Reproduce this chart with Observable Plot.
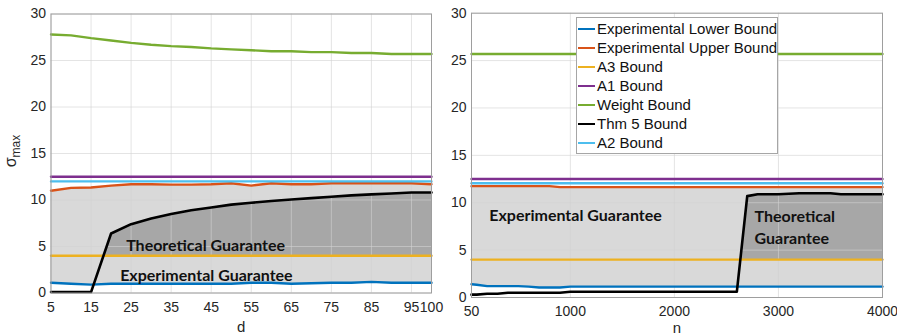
<!DOCTYPE html>
<html>
<head>
<meta charset="utf-8">
<script src="https://cdn.jsdelivr.net/npm/d3@7"></script>
<script src="https://cdn.jsdelivr.net/npm/@observablehq/plot@0.6"></script>
<style>
  body { margin: 0; background: #fff; }
  #wrap { position: relative; width: 897px; height: 335px; overflow: hidden; font-family: "Liberation Sans", Arial, sans-serif; }
  #wrap > svg { position: absolute; top: 0; }
  .legend { position: absolute; left: 576px; top: 17px; width: 202px; height: 137px; background: #fff;
            border: 1px solid #a6a6a6; box-sizing: border-box; padding-top: 1px; }
  .legend .row { display: flex; align-items: center; height: 19px; font-size: 15px; color: #111; white-space: nowrap; }
  .legend .sw { width: 17px; height: 2px; margin: 0 2px 0 1px; flex: none; }
</style>
</head>
<body>
<div id="wrap"></div>
<script>
// ---- sigma_max against dimension d ----
const d = [5, 10, 15, 20, 25, 30, 35, 40, 45, 50, 55, 60, 65, 70, 75, 80, 85, 90, 95, 100];
const dLower  = [1.1, 1.0, 0.9, 1.0, 1.0, 1.0, 1.0, 1.0, 1.0, 1.0, 1.1, 1.1, 1.0, 1.05, 1.1, 1.1, 1.2, 1.1, 1.1, 1.1];
const dUpper  = [11.0, 11.3, 11.35, 11.55, 11.7, 11.7, 11.65, 11.65, 11.7, 11.8, 11.55, 11.8, 11.7, 11.7, 11.8, 11.8, 11.8, 11.8, 11.8, 11.7];
const dA3     = [4, 4, 4, 4, 4, 4, 4, 4, 4, 4, 4, 4, 4, 4, 4, 4, 4, 4, 4, 4];
const dA1     = [12.5, 12.5, 12.5, 12.5, 12.5, 12.5, 12.5, 12.5, 12.5, 12.5, 12.5, 12.5, 12.5, 12.5, 12.5, 12.5, 12.5, 12.5, 12.5, 12.5];
const dWeight = [27.8, 27.7, 27.4, 27.15, 26.9, 26.7, 26.55, 26.45, 26.3, 26.2, 26.1, 26.0, 26.0, 25.9, 25.9, 25.8, 25.8, 25.7, 25.7, 25.7];
const dThm5   = [0.1, 0.1, 0.1, 6.4, 7.4, 8.0, 8.5, 8.9, 9.2, 9.5, 9.7, 9.9, 10.05, 10.2, 10.35, 10.5, 10.6, 10.7, 10.8, 10.8];
const dA2     = [12.0, 12.0, 12.0, 12.0, 12.0, 12.0, 12.0, 12.0, 12.0, 12.0, 12.0, 12.0, 12.0, 12.0, 12.0, 12.0, 12.0, 12.0, 12.0, 12.0];
const dTicks  = [5, 15, 25, 35, 45, 55, 65, 75, 85, 95, 100];

// ---- sigma_max against sample count n ----
const n = [50, 100, 200, 300, 400, 500, 600, 700, 800, 900, 1000, 1100, 1200, 1300, 1400, 1500, 1600, 1700, 1800, 1900, 2000,
           2100, 2200, 2300, 2400, 2500, 2600, 2700, 2800, 2900, 3000, 3100, 3200, 3300, 3400, 3500, 3600, 3700, 3800, 3900, 4000];
const nLower  = [1.4, 1.35, 1.2, 1.2, 1.2, 1.2, 1.15, 1.05, 1.05, 1.05, 1.15, 1.15, 1.15, 1.15, 1.15, 1.15, 1.15, 1.15, 1.15, 1.15, 1.15,
                 1.15, 1.15, 1.15, 1.15, 1.15, 1.15, 1.15, 1.15, 1.15, 1.15, 1.15, 1.15, 1.15, 1.15, 1.15, 1.15, 1.15, 1.15, 1.15, 1.15];
const nUpper  = [11.75, 11.75, 11.75, 11.75, 11.75, 11.75, 11.75, 11.75, 11.75, 11.65, 11.65, 11.65, 11.65, 11.65, 11.65, 11.65, 11.65, 11.65, 11.65, 11.65, 11.65,
                 11.65, 11.65, 11.65, 11.65, 11.65, 11.65, 11.65, 11.65, 11.65, 11.65, 11.65, 11.65, 11.65, 11.65, 11.65, 11.65, 11.65, 11.65, 11.65, 11.65];
const nA3     = n.map(() => 4);
const nA1     = n.map(() => 12.5);
const nWeight = n.map(() => 25.7);
const nA2     = n.map(() => 12.05);
const nThm5   = [0.3, 0.3, 0.4, 0.4, 0.5, 0.5, 0.5, 0.5, 0.5, 0.5, 0.6, 0.6, 0.6, 0.6, 0.6, 0.6, 0.6, 0.6, 0.6, 0.6, 0.6,
                 0.6, 0.6, 0.6, 0.6, 0.6, 0.6, 10.7, 10.9, 10.9, 10.9, 10.95, 11.0, 11.0, 11.0, 11.0, 10.9, 10.9, 10.9, 10.9, 10.9];
const nTicks  = [50, 1000, 2000, 3000, 4000];

const yTicks = [0, 5, 10, 15, 20, 25, 30];

// MATLAB default line colours
const series = [
  {name: "Experimental Lower Bound", color: "#0072bd"},
  {name: "Experimental Upper Bound", color: "#d95319"},
  {name: "A3 Bound", color: "#edb120"},
  {name: "A1 Bound", color: "#7e2f8e"},
  {name: "Weight Bound", color: "#77ac30"},
  {name: "Thm 5 Bound", color: "#000000"},
  {name: "A2 Bound", color: "#4dbeee"}
];

const LIGHT = "#d9d9d9", DARK = "#a7a7a7";

function panel({x, lower, upper, a3, a1, weight, thm5, a2, xTicks, xLabel, xLabelDy, texts, width, margins}) {
  const ys = [lower, upper, a3, a1, weight, thm5, a2];
  return Plot.plot({
    width, height: 335,
    ...margins,
    style: {fontFamily: "'Liberation Sans', Arial, sans-serif", fontSize: "14px", color: "#262626", background: "transparent", overflow: "visible"},
    x: {domain: [x[0], x[x.length - 1]]},
    y: {domain: [0, 30]},
    marks: [
      // experimental guarantee band (lower → upper)
      Plot.areaY(x, {x, y1: lower, y2: upper, fill: LIGHT}),
      // theoretical guarantee band (A3 bound → Thm 5 bound)
      Plot.areaY(x, {x, y1: a3, y2: thm5, fill: DARK}),
      // the theoretical band only counts above the A3 bound: repaint what lies below it
      Plot.areaY(x, {x, y1: 0, y2: a3, fill: "#ffffff"}),
      Plot.areaY(x, {x, y1: lower, y2: a3, fill: LIGHT}),
      Plot.gridX({ticks: xTicks, stroke: "#d2d2d2", strokeOpacity: 0.6}),
      Plot.gridY({ticks: yTicks, stroke: "#d2d2d2", strokeOpacity: 0.6}),
      ...ys.map((v, i) => Plot.line(x, {x, y: v, stroke: series[i].color,
        strokeWidth: i === 5 ? 2.6 : 2.4, strokeLinejoin: "round"})),
      ...texts.map(t => Plot.text([t.label], {x: t.x, y: t.y, textAnchor: t.anchor || "middle", lineHeight: 1.375,
        fontFamily: "Lato, sans-serif", fontWeight: 700, fontSize: 16, fill: "#111"})),
      Plot.frame({stroke: "#9e9e9e"}),
      Plot.axisX({ticks: xTicks, tickFormat: v => String(v), tickSize: 0, tickPadding: 9, label: null}),
      Plot.axisY({ticks: yTicks, tickFormat: v => String(v), tickSize: 0, tickPadding: 5, label: null}),
      Plot.text([xLabel], {frameAnchor: "bottom", dy: xLabelDy, fontSize: 15, fill: "#262626"})
    ]
  });
}

const wrap = document.getElementById("wrap");

const left = panel({
  x: d, lower: dLower, upper: dUpper, a3: dA3, a1: dA1, weight: dWeight, thm5: dThm5, a2: dA2,
  xTicks: dTicks, xLabel: "d", xLabelDy: 39,
  texts: [
    {label: "Theoretical Guarantee", x: 43.6, y: 5.3},
    {label: "Experimental Guarantee", x: 43.8, y: 2.1}
  ],
  width: 450, margins: {marginLeft: 50.5, marginRight: 19, marginTop: 13.5, marginBottom: 42.5}
});
left.style.left = "0px";
wrap.appendChild(left);

// y-axis title: sigma with subscript "max"
const ly = d3.select(left).append("text")
  .attr("transform", "translate(16,151) rotate(-90)")
  .attr("text-anchor", "middle")
  .attr("fill", "#262626")
  .attr("font-size", 16);
ly.append("tspan").text("σ");
ly.append("tspan").attr("font-size", 12).attr("dy", 4).text("max");

const right = panel({
  x: n, lower: nLower, upper: nUpper, a3: nA3, a1: nA1, weight: nWeight, thm5: nThm5, a2: nA2,
  xTicks: nTicks, xLabel: "n", xLabelDy: 35,
  texts: [
    {label: "Experimental Guarantee", x: 1050, y: 8.86},
    {label: "Theoretical\nGuarantee", x: 2770, y: 7.5, anchor: "start"}
  ],
  width: 447, margins: {marginLeft: 21, marginRight: 15, marginTop: 12.7, marginBottom: 38}
});
right.style.left = "450px";
wrap.appendChild(right);

// legend box
const legend = document.createElement("div");
legend.className = "legend";
for (const s of series) {
  const row = document.createElement("div");
  row.className = "row";
  const sw = document.createElement("span");
  sw.className = "sw";
  sw.style.background = s.color;
  const label = document.createElement("span");
  label.textContent = s.name;
  row.appendChild(sw);
  row.appendChild(label);
  legend.appendChild(row);
}
wrap.appendChild(legend);
</script>
</body>
</html>
